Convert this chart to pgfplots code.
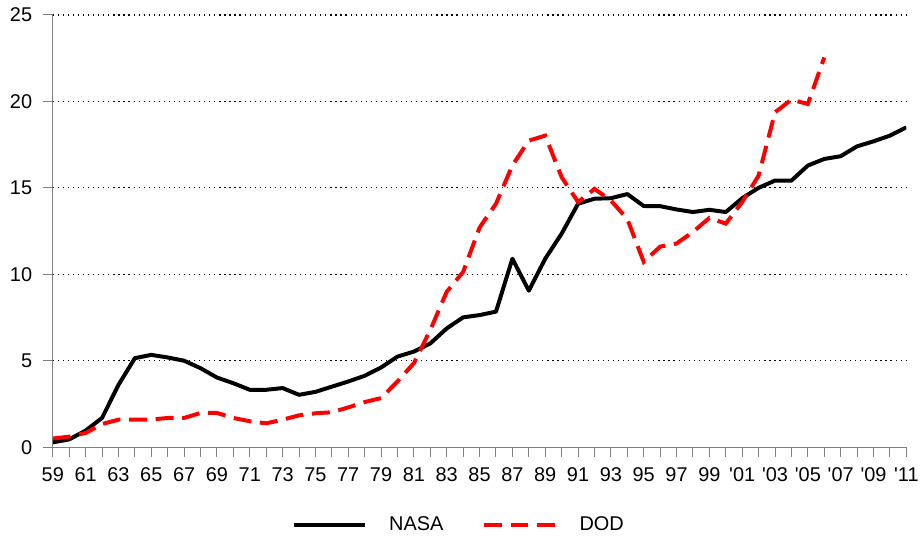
\documentclass[border=0pt]{standalone}
\usepackage{pgfplots}
\pgfplotsset{compat=1.18}
\usepackage{pgfplotstable}
\usepackage{fontspec}
\setmainfont{Liberation Sans}
\definecolor{axgray}{RGB}{128,128,128}
\definecolor{dodred}{RGB}{255,0,0}
\pgfplotstableread{
yr v
59 0.28
60 0.45
61 0.96
62 1.69
63 3.6
64 5.15
65 5.34
66 5.19
67 5.0
68 4.57
69 4.03
70 3.7
71 3.32
72 3.32
73 3.42
74 3.03
75 3.2
76 3.5
77 3.8
78 4.13
79 4.61
80 5.24
81 5.53
82 6.0
83 6.87
84 7.51
85 7.64
86 7.84
87 10.9
88 9.05
89 10.9
90 12.35
91 14.08
92 14.37
93 14.4
94 14.64
95 13.95
96 13.94
97 13.75
98 13.6
99 13.73
100 13.6
101 14.4
102 15.0
103 15.42
104 15.42
105 16.29
106 16.67
107 16.83
108 17.4
109 17.69
110 18.02
111 18.5
}\nasa
\pgfplotstableread{
yr v
59 0.5
60 0.61
61 0.82
62 1.34
63 1.59
64 1.6
65 1.6
66 1.69
67 1.69
68 1.98
69 1.98
70 1.69
71 1.5
72 1.38
73 1.59
74 1.84
75 1.96
76 2.02
77 2.3
78 2.61
79 2.84
80 3.8
81 4.86
82 6.78
83 8.99
84 10.14
85 12.7
86 14.08
87 16.3
88 17.73
89 18.02
90 15.62
91 14.18
92 14.94
93 14.27
94 13.2
95 10.72
96 11.6
97 11.78
98 12.45
99 13.26
100 12.93
101 14.18
102 15.71
103 19.37
104 20.1
105 19.85
106 22.54
}\dod
\begin{document}
\begin{tikzpicture}
\begin{axis}[name=main,
  scale only axis, width=642.75pt, height=325.5pt,
  xmin=59, xmax=111, ymin=0, ymax=25,
  axis lines*=left,
  axis line style={color=axgray, line width=0.75pt},
  every tick/.style={color=axgray, line width=0.75pt},
  tick align=outside, major tick length=7.5pt, minor tick length=7.5pt,
  xtick={59,61,...,111}, minor xtick={60,62,...,110},
  xticklabels={59,61,63,65,67,69,71,73,75,77,79,81,83,85,87,89,91,93,95,97,99,\textquotesingle01,\textquotesingle03,\textquotesingle05,\textquotesingle07,\textquotesingle09,\textquotesingle11},
  ytick={5,10,...,25}, extra y ticks={0}, extra y tick style={grid=none},
  ymajorgrids,
  grid style={black, line width=0.9pt, dash pattern=on 0.9pt off 2.9pt},
  tick label style={font=\fontsize{15}{18}\selectfont},
  xticklabel style={yshift=-4.5pt},
  yticklabel style={xshift=-4.5pt},
  /pgf/number format/assume math mode=true,
  legend style={at={(0.476,-0.18)}, anchor=center, draw=none, fill=none,
    legend columns=2, font=\fontsize{15}{18}\selectfont,
    /tikz/every even column/.append style={column sep=27pt},
    /tikz/every odd column/.append style={column sep=15pt}},
  legend image code/.code={\draw[#1] (0pt,0pt) -- (53.5pt,0pt);},
]
\addplot[black, line width=3pt, line join=round] table[x=yr, y=v] {\nasa};
\addlegendentry{NASA}
\addplot[dodred, line width=3pt, dash pattern=on 13.5pt off 6.5pt] table[x=yr, y=v] {\dod};
\addlegendentry{DOD}
\end{axis}
\path ([shift={(-39.75pt,-66pt)}]main.south west) rectangle ([shift={(9.75pt,11.25pt)}]main.north east);
\end{tikzpicture}
\end{document}
